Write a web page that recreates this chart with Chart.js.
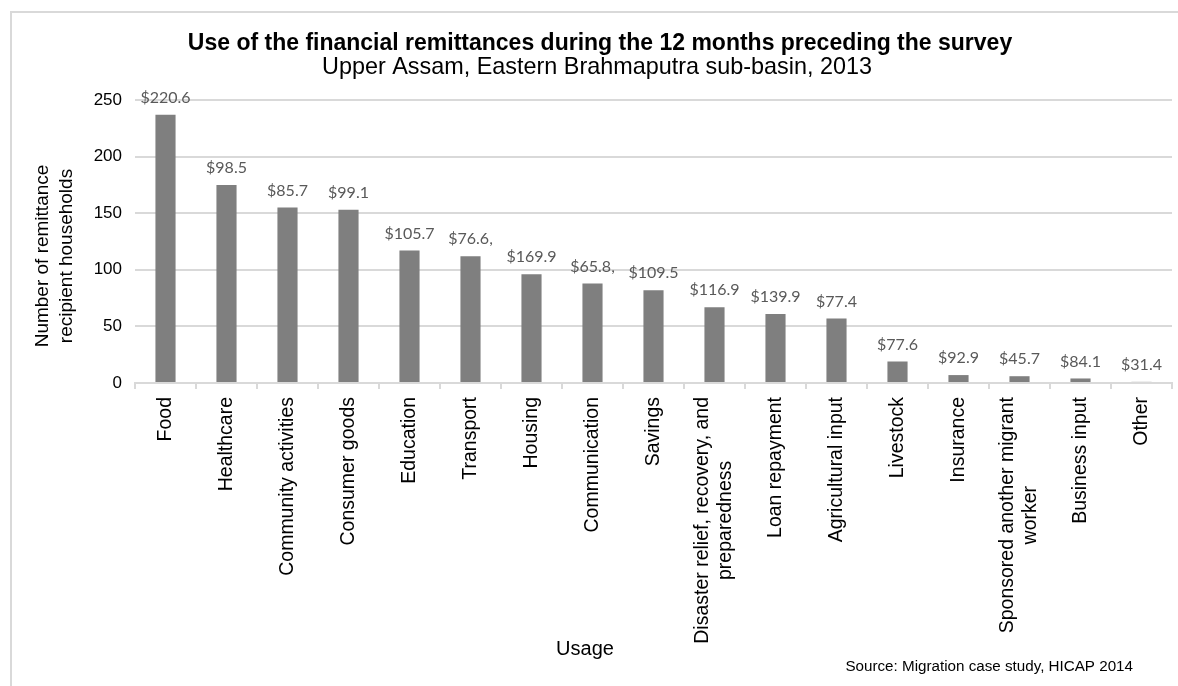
<!DOCTYPE html>
<html>
<head>
<meta charset="utf-8">
<script src="https://cdn.jsdelivr.net/npm/chart.js@4.4.1/dist/chart.umd.min.js"></script>
<style>
  html, body { margin: 0; padding: 0; background: #ffffff; overflow: hidden; }
  #wrap { position: relative; width: 1178px; height: 686px; overflow: hidden; background: #fff; }
  #frame { position: absolute; left: 10px; top: 11px; width: 3000px; height: 3000px; border: 2px solid #d9d9d9; box-sizing: border-box; pointer-events: none; }
  canvas { position: absolute; left: 0; top: 0; }
</style>
</head>
<body>
<div id="wrap">
  <div id="frame"></div>
  <canvas id="c" width="1178" height="686"></canvas>
</div>
<script>
// ---- data ----
const categories = [
  ["Food"], ["Healthcare"], ["Community activities"], ["Consumer goods"], ["Education"],
  ["Transport"], ["Housing"], ["Communication"], ["Savings"],
  ["Disaster relief, recovery, and", "preparedness"], ["Loan repayment"], ["Agricultural input"],
  ["Livestock"], ["Insurance"], ["Sponsored another migrant", "worker"], ["Business input"], ["Other"]
];
const households = [237, 175, 155, 153, 117, 112, 96, 88, 82, 67, 61, 57, 19, 7, 6, 4, 1];
const amountLabels = ["$220.6", "$98.5", "$85.7", "$99.1", "$105.7", "$76.6,", "$169.9", "$65.8,",
  "$109.5", "$116.9", "$139.9", "$77.4", "$77.6", "$92.9", "$45.7", "$84.1", "$31.4"];
const yMin = 0, yMax = 250, yStep = 50;
const titleText = "Use of the financial remittances during the 12 months preceding the survey";
const subtitleText = "Upper Assam, Eastern Brahmaputra sub-basin, 2013";
const yTitleLines = ["Number of remittance", "recipient households"];
const xTitleText = "Usage";
const sourceText = "Source: Migration case study, HICAP 2014";

const SANS = '"Liberation Sans", Arial, sans-serif';

const textPlugin = {
  id: 'textPlugin',
  afterDraw(chart) {
    const ctx = chart.ctx;
    const area = chart.chartArea;
    const xs = chart.scales.x;
    ctx.save();
    // titles
    ctx.fillStyle = '#000';
    ctx.textAlign = 'center';
    ctx.textBaseline = 'middle';
    ctx.font = 'bold 23px ' + SANS;
    ctx.fillText(titleText, 600, 44);
    ctx.font = '23.4px ' + SANS;
    ctx.fillText(subtitleText, 597, 68);

    // value labels above bars
    const meta = chart.getDatasetMeta(0);
    ctx.font = '16px Lato, "Liberation Sans", sans-serif';
    ctx.fillStyle = '#595959';
    meta.data.forEach((bar, i) => {
      ctx.fillText(amountLabels[i], bar.x, bar.y - 17);
    });

    // category labels (rotated, lines centered on each other)
    ctx.fillStyle = '#000';
    ctx.font = '19.5px ' + SANS;
    const lh = 23;
    categories.forEach((lines, i) => {
      const x = xs.getPixelForValue(i);
      const yTop = area.bottom + 14;
      let maxW = 0;
      lines.forEach(l => { maxW = Math.max(maxW, ctx.measureText(l).width); });
      ctx.save();
      ctx.translate(x, yTop);
      ctx.rotate(-Math.PI / 2);
      ctx.textAlign = 'center';
      ctx.textBaseline = 'middle';
      lines.forEach((l, k) => {
        ctx.fillText(l, -maxW / 2, (k - (lines.length - 1) / 2) * lh);
      });
      ctx.restore();
    });

    // y-axis title
    ctx.font = '19px ' + SANS;
    ctx.save();
    ctx.translate(55, 256);
    ctx.rotate(-Math.PI / 2);
    ctx.textAlign = 'center';
    ctx.textBaseline = 'middle';
    yTitleLines.forEach((l, k) => {
      ctx.fillText(l, 0, (k - (yTitleLines.length - 1) / 2) * 24);
    });
    ctx.restore();

    // x-axis title
    ctx.font = '20px ' + SANS;
    ctx.textAlign = 'center';
    ctx.fillText(xTitleText, 585, 649);

    // source
    ctx.font = '15.2px ' + SANS;
    ctx.textAlign = 'right';
    ctx.fillText(sourceText, 1133, 667);
    ctx.restore();
  }
};

new Chart(document.getElementById('c'), {
  type: 'bar',
  data: {
    labels: categories.map(l => l.join(' ')),
    datasets: [{
      data: households,
      backgroundColor: '#7f7f7f',
      borderWidth: 0,
      barPercentage: 0.33,
      categoryPercentage: 1.0
    }]
  },
  options: {
    responsive: false,
    animation: false,
    devicePixelRatio: 1,
    layout: { padding: { left: 0, right: 6, top: 100, bottom: 0 } },
    plugins: { legend: { display: false }, tooltip: { enabled: false }, title: { display: false } },
    scales: {
      x: {
        offset: true,
        grid: { display: true, drawOnChartArea: false, drawTicks: true, tickLength: 6, offset: true, color: '#d9d9d9', lineWidth: 2 },
        border: { display: true, color: '#d9d9d9', width: 2 },
        ticks: { display: false },
        afterFit(scale) { scale.height = 303; }
      },
      y: {
        min: yMin, max: yMax,
        ticks: { stepSize: yStep, color: '#000', font: { family: SANS, size: 17 }, padding: 13 },
        grid: { color: '#d9d9d9', lineWidth: 2, drawTicks: false },
        border: { display: false },
        afterFit(scale) { scale.width = 135; }
      }
    }
  },
  plugins: [textPlugin]
});
</script>
</body>
</html>
